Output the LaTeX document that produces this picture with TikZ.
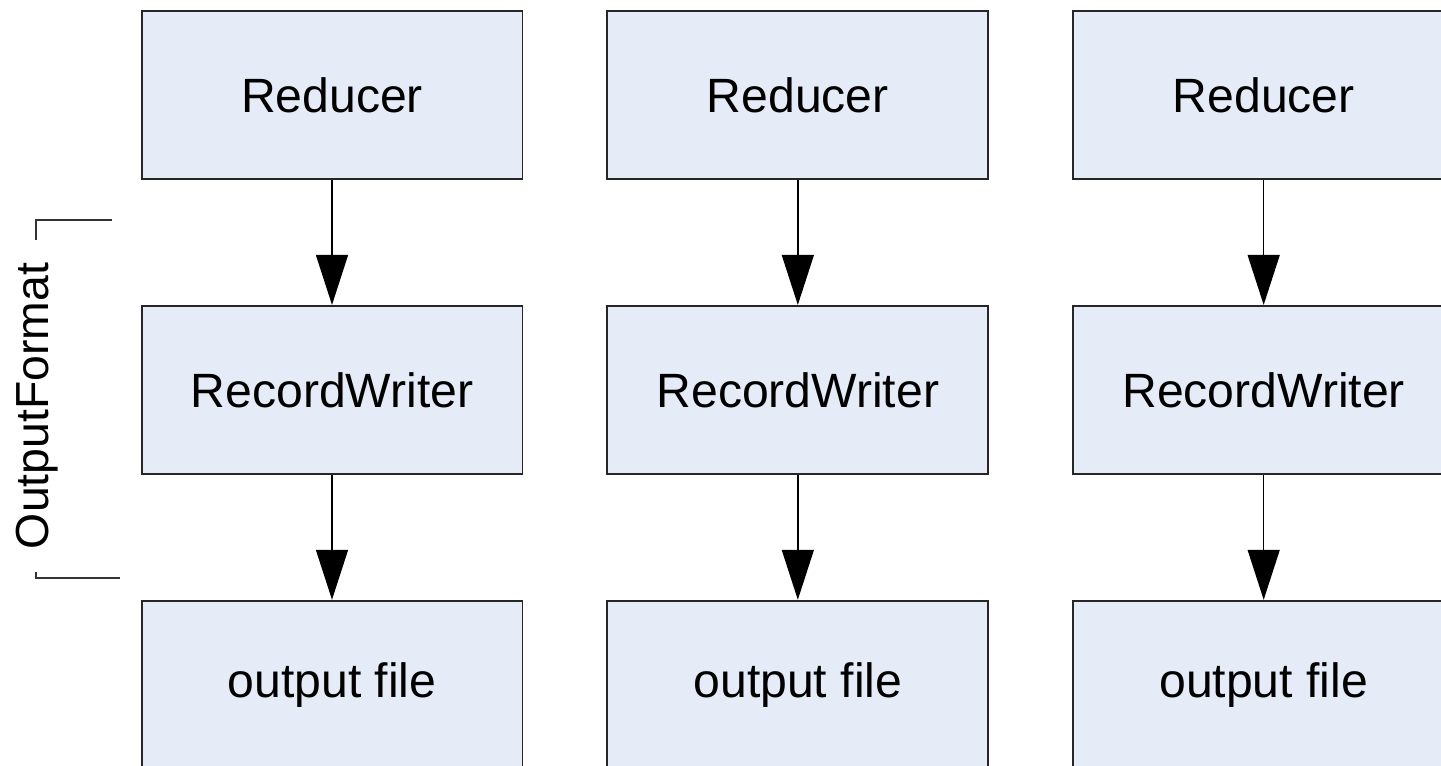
\documentclass[tikz,border=0pt]{standalone}
\usepackage{fontspec}
\setmainfont{Liberation Sans}
\usetikzlibrary{positioning,arrows.meta}
\definecolor{boxfill}{RGB}{230,236,247}
\begin{document}
\begin{tikzpicture}[x=0.02cm, y=-0.02cm] % координаты в пикселях
\tikzstyle{block} = [draw=black!85, line width=1.1pt, fill=boxfill, minimum width=7.62cm, minimum height=3.36cm, inner sep=0pt, font=\fontsize{27.4}{30}\selectfont] % прямоугольный блок
\tikzstyle{flow} = [-{Triangle[width=0.64cm,length=1cm]}, line width=0.8pt] % стрелка с треугольником
\tikzstyle{brace} = [draw=black!80, line width=0.75pt] % скобка OutputFormat
\useasboundingbox (0,0) rectangle (1441,766);

% верхний ряд
\node[block] (red1) at (332,95) {Reducer};
\node[block, right=1.66cm of red1] (red2) {Reducer};
\node[block, right=1.66cm of red2] (red3) {Reducer};
% средний ряд
\node[block, below=2.5cm of red1] (rw1) {RecordWriter};
\node[block, below=2.5cm of red2] (rw2) {RecordWriter};
\node[block, below=2.5cm of red3] (rw3) {RecordWriter};
% нижний ряд
\node[block, below=2.5cm of rw1] (out1) {output file};
\node[block, below=2.5cm of rw2] (out2) {output file};
\node[block, below=2.5cm of rw3] (out3) {output file};

\draw[flow] (red1) -- (rw1);
\draw[flow] (red2) -- (rw2);
\draw[flow] (red3) -- (rw3);
\draw[flow] (rw1) -- (out1);
\draw[flow] (rw2) -- (out2);
\draw[flow] (rw3) -- (out3);

% скобка слева
\coordinate (ftop) at (112,220);
\coordinate (fbot) at (120,578);
\coordinate (fx) at (36,0);
\draw[brace] (ftop) -- (ftop -| fx) -- (fbot -| fx) -- (fbot);
\node[fill=white, rotate=90, inner xsep=0.45cm, inner ysep=0pt, font=\fontsize{26.4}{30}\selectfont] (fmt) at (37,406) {OutputFormat};
\end{tikzpicture}
\end{document}
